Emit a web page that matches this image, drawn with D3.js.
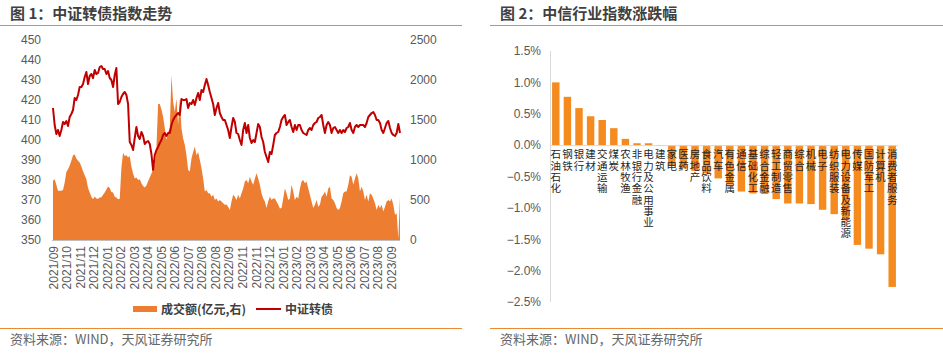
<!DOCTYPE html>
<html>
<head>
<meta charset="utf-8">
<script src="https://cdn.jsdelivr.net/npm/d3@7"></script>
<style>
  body { margin: 0; background: #fff; }
  svg { display: block; font-family: "Liberation Sans", Arial, sans-serif; }
  .cn { font-family: "Noto Sans CJK SC", "Noto Sans", sans-serif; }
</style>
</head>
<body>
<div id="vis"></div>
<script>
const WIDTH = 943;
const HEIGHT = 364;

// ---- figure 1: CSI convertible bond index (left axis) + turnover (right axis)
const monthLabels = ["2021/09", "2021/10", "2021/11", "2021/12", "2022/01", "2022/02", "2022/03",
  "2022/04", "2022/05", "2022/06", "2022/07", "2022/08", "2022/08", "2022/09", "2022/11", "2022/11",
  "2022/12", "2023/01", "2023/02", "2023/03", "2023/04", "2023/05", "2023/06", "2023/07", "2023/08", "2023/09"];

const leftTicks = [350, 360, 370, 380, 390, 400, 410, 420, 430, 440, 450];
const rightTicks = [0, 500, 1000, 1500, 2000, 2500];

// 中证转债 index
const indexValues = [
  416, 407.5, 403, 405, 402, 405, 409, 408, 409.5, 407, 411.5, 413, 415, 421, 420, 422.5, 426.5, 426.5,
  428, 431.5, 434, 428, 432, 433, 431, 435, 433, 433.5, 436.5, 437, 435.5, 435.5, 433, 434.5, 431, 430,
  426.5, 432.5, 436, 418, 419, 421.5, 423, 424, 422.5, 418, 399, 397.5, 395, 401, 406.5, 402, 400.5, 404,
  402, 398, 399, 399.5, 398, 393, 385, 392.5, 395, 396.5, 398.5, 400, 402.5, 403.5, 402, 403.5, 403.5,
  407.5, 410, 411.5, 412.5, 413.5, 412.5, 420.5, 420, 420, 420.5, 416, 418.5, 418, 420, 417.5, 421, 423.5,
  420, 425, 424, 427.5, 430.5, 427.5, 424, 421, 418, 412.5, 416, 418.5, 413.5, 411.5, 410, 410, 407.5, 405,
  401, 406.5, 411, 409, 403.5, 403, 400, 397.5, 405, 408.5, 403.5, 407.5, 401, 398.5, 400, 399, 403.5, 408,
  406.5, 401.5, 399, 394, 391.5, 389, 394, 393, 397.5, 402.5, 403.5, 404, 406.5,
  410, 411.5, 412.5, 407.5, 409, 410, 406.5, 404, 407.5, 405, 407.5, 407.5, 405, 403.5, 403, 402.5, 405,
  406, 405, 407.5, 408.5, 409, 411, 411.5, 412.5, 407.5, 403.5, 407.5, 409, 407.5, 403.5, 406, 406.5, 405,
  403.5, 405, 403.5, 405, 404, 406, 406.5, 408.5, 405, 403.5, 406.5, 407.5, 406.5, 407.5, 407.5, 407.5,
  406.5, 408.5, 411.5, 412.5, 413.5, 414, 412.5, 410, 410, 408.5, 405, 403.5, 406, 408.5, 409.5, 406, 403.5,
  402.5, 402, 403.5, 408, 403.5
];

// 成交额 (亿元)
const turnoverValues = [
  740, 760, 690, 615, 615, 615, 625, 720, 850, 885, 930, 990, 1060, 1070, 1020, 990, 970, 920, 860, 810,
  760, 650, 595, 540, 510, 545, 520, 515, 530, 535, 565, 595, 630, 670, 650, 600, 595, 540, 530, 510, 515,
  900, 1090, 1050, 1060, 1030, 1050, 920, 830, 770, 780, 750, 760, 710, 675, 655, 680, 735, 780, 830, 880,
  950, 1150, 1700, 1700, 1630, 1540, 1400, 1250, 1350, 1400,
  2060, 1730, 1600, 1770, 1440, 1770, 1400, 1270, 1190, 1060, 875, 855, 1020, 1100, 1170, 1060, 1100, 1000,
  900, 770, 605, 625, 585, 585, 540, 565, 500, 520, 480, 500, 480, 460, 440, 445, 415, 375, 480, 565, 540,
  500, 565, 520, 585, 645, 730, 750, 710, 790, 730, 690, 770, 835, 770, 690, 585, 520, 480, 400, 480, 540,
  500, 520, 520, 480, 440, 395,
  400, 520, 645, 585, 500, 520, 690, 605, 500, 540, 520, 645, 730, 750, 710, 730, 645, 565, 480, 400, 440,
  500, 415, 440, 540, 565, 605, 540, 645, 665, 520, 500, 460, 400, 375, 400, 480, 585, 605, 605, 690, 810,
  790, 690, 770, 835, 770, 605, 665, 605, 500, 565, 480, 585, 565, 520, 460, 375, 440, 400, 440, 355, 415,
  480, 500, 480, 520, 440, 315, 335, 20, 540
];

// ---- figure 2: CITIC industry index change (%)
const industries = ["石油石化", "钢铁", "银行", "建材", "交通运输", "煤炭", "农林牧渔", "非银行金融",
  "电力及公用事业", "建筑", "家电", "医药", "房地产", "食品饮料", "汽车", "有色金属", "通信", "基础化工",
  "综合金融", "轻工制造", "商贸零售", "综合", "机械", "电子", "纺织服装", "电力设备及新能源", "传媒",
  "国防军工", "计算机", "消费者服务"];
const changes = [1.00, 0.77, 0.59, 0.46, 0.40, 0.27, 0.10, 0.03, 0.03, -0.01, -0.33, -0.37, -0.41, -0.45,
  -0.53, -0.63, -0.74, -0.77, -0.78, -0.86, -0.93, -0.93, -0.94, -1.03, -1.10, -1.20, -1.59, -1.65, -1.74, -2.26];
const pctTicks = [-2.5, -2, -1.5, -1, -0.5, 0, 0.5, 1, 1.5];

const ORANGE_RULE = "#EB8A34";
const TICK_GREY = "#595959";

const svg = d3.select("#vis").append("svg")
  .attr("width", WIDTH)
  .attr("height", HEIGHT);

// panel header + footer
function panelFrame(x0, x1, title) {
  svg.append("text").attr("class", "cn")
    .attr("x", x0 + 10).attr("y", 19)
    .attr("font-size", 15).attr("font-weight", "bold").attr("fill", "#404040")
    .text(title);
  svg.append("line").attr("x1", x0).attr("x2", x1).attr("y1", 25.5).attr("y2", 25.5)
    .attr("stroke", ORANGE_RULE).attr("stroke-width", 1.2);
  svg.append("line").attr("x1", x0).attr("x2", x1).attr("y1", 328.5).attr("y2", 328.5)
    .attr("stroke", ORANGE_RULE).attr("stroke-width", 1.2);
  svg.append("text").attr("class", "cn")
    .attr("x", x0 + 10).attr("y", 344)
    .attr("font-size", 13).attr("fill", "#666")
    .text("资料来源：WIND，天风证券研究所");
}
panelFrame(0, 462, "图 1：中证转债指数走势");
panelFrame(490, 943, "图 2：中信行业指数涨跌幅");

// ---------------- left chart
const yL = d3.scaleLinear().domain([350, 450]).range([240, 40]);
const yR = d3.scaleLinear().domain([0, 2500]).range([240, 40]);
const xIdx = d3.scaleLinear().domain([0, indexValues.length - 1]).range([53, 400]);
const xVol = d3.scaleLinear().domain([0, turnoverValues.length - 1]).range([53, 400]);

const left = svg.append("g");

left.append("path")
  .datum(turnoverValues)
  .attr("fill", "#ED7D31")
  .attr("d", d3.area().x((d, i) => xVol(i)).y0(yR(0)).y1(d => yR(d)));

left.append("line").attr("x1", 52).attr("x2", 400).attr("y1", 240.5).attr("y2", 240.5)
  .attr("stroke", "#BFBFBF");

left.append("path")
  .datum(indexValues)
  .attr("fill", "none")
  .attr("stroke", "#C00000")
  .attr("stroke-width", 2)
  .attr("stroke-linejoin", "round")
  .attr("d", d3.line().x((d, i) => xIdx(i)).y(d => yL(d)));

const axL = left.append("g").attr("transform", "translate(41,0)")
  .call(d3.axisLeft(yL).tickValues(leftTicks).tickSize(0).tickPadding(0));
const axR = left.append("g").attr("transform", "translate(410,0)")
  .call(d3.axisRight(yR).tickValues(rightTicks).tickSize(0).tickPadding(0).tickFormat(d3.format("d")));
[axL, axR].forEach(a => {
  a.select(".domain").remove();
  a.selectAll("text").attr("font-size", 12).attr("fill", TICK_GREY)
    .attr("font-family", "'Liberation Sans', Arial, sans-serif");
});

const xLab = d3.scalePoint().domain(d3.range(monthLabels.length)).range([53, 391]);
const axX = left.append("g").attr("transform", "translate(0,246)")
  .call(d3.axisBottom(xLab).tickSize(0).tickFormat(i => monthLabels[i]));
axX.select(".domain").remove();
axX.selectAll("text")
  .attr("font-size", 12).attr("fill", TICK_GREY)
  .attr("font-family", "'Liberation Sans', Arial, sans-serif")
  .attr("transform", "rotate(-90)")
  .attr("text-anchor", "end")
  .attr("x", 0).attr("y", 0).attr("dy", "0.35em");

// legend
const leg = left.append("g").attr("class", "cn").attr("font-size", 12).attr("font-weight", "bold").attr("fill", "#404040");
leg.append("rect").attr("x", 133).attr("y", 306).attr("width", 24).attr("height", 6).attr("fill", "#ED7D31");
leg.append("text").attr("x", 161).attr("y", 313.5).text("成交额(亿元,右)");
leg.append("line").attr("x1", 256).attr("x2", 281).attr("y1", 309).attr("y2", 309)
  .attr("stroke", "#C00000").attr("stroke-width", 2);
leg.append("text").attr("x", 285).attr("y", 313.5).text("中证转债");

// ---------------- right chart
const xB = d3.scaleBand().domain(industries).range([550, 898]).paddingInner(0.36).paddingOuter(0.18);
const yP = d3.scaleLinear().domain([-2.5, 1.5]).range([302, 51]);

const right = svg.append("g");

right.append("line").attr("x1", 550.5).attr("x2", 550.5).attr("y1", yP(1.5)).attr("y2", yP(-2.5))
  .attr("stroke", "#D9D9D9");

right.selectAll("rect.bar")
  .data(industries)
  .enter().append("rect")
  .attr("class", "bar")
  .attr("x", d => xB(d))
  .attr("width", xB.bandwidth())
  .attr("y", (d, i) => yP(Math.max(0, changes[i])))
  .attr("height", (d, i) => Math.abs(yP(changes[i]) - yP(0)))
  .attr("fill", "#F58A1F");

right.append("line").attr("x1", 550).attr("x2", 898).attr("y1", yP(0) + 0.5).attr("y2", yP(0) + 0.5)
  .attr("stroke", "#D9D9D9");

const fmt = d3.format(".1f");
const axP = right.append("g").attr("transform", "translate(541,0)")
  .call(d3.axisLeft(yP).tickValues(pctTicks).tickSize(0).tickPadding(0).tickFormat(d => fmt(d) + "%"));
axP.select(".domain").remove();
axP.selectAll("text").attr("font-size", 12).attr("fill", TICK_GREY)
  .attr("font-family", "'Liberation Sans', Arial, sans-serif");

// vertical category labels (upright characters stacked top to bottom)
right.append("g").attr("class", "cn")
  .selectAll("text")
  .data(industries)
  .enter().append("text")
  .attr("x", d => xB(d) + xB.bandwidth() / 2)
  .attr("y", yP(0) + 4)
  .style("writing-mode", "vertical-rl")
  .style("text-orientation", "upright")
  .style("letter-spacing", "0.8px")
  .attr("font-size", 10.5)
  .attr("fill", "#262626")
  .text(d => d);
</script>
</body>
</html>
